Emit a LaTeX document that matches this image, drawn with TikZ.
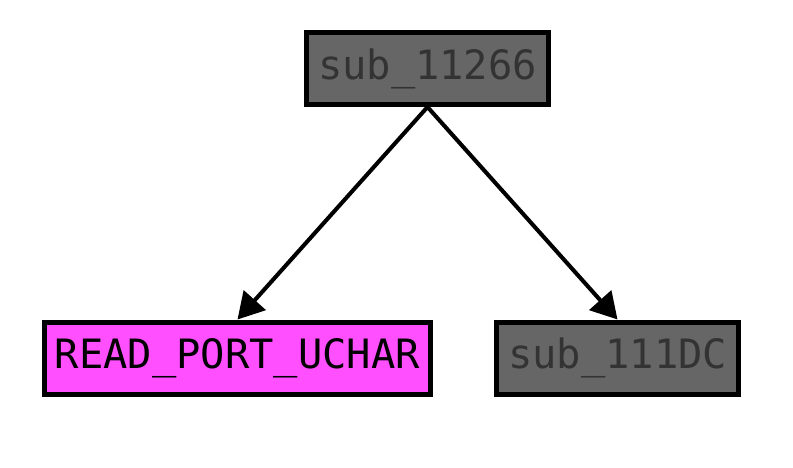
\documentclass[tikz,border=0pt]{standalone}
\usepackage{fontspec}
\setmonofont{DejaVu Sans Mono}
\usepackage{xcolor}
\usepackage{tikz}
\usetikzlibrary{arrows.meta,positioning}
\definecolor{fgray}{HTML}{666666}
\definecolor{tgray}{HTML}{333333}
\definecolor{fmag}{HTML}{FF4FFF}
\tikzset{
  fn/.style={draw=black, line width=2.85pt, minimum height=1.44cm, inner sep=0pt,
    font=\ttfamily\fontsize{23}{25}\selectfont},
  sub/.style={fn, fill=fgray, text=tgray, minimum width=4.84cm},
  imp/.style={fn, fill=fmag, text=black, minimum width=7.72cm},
  call/.style={line width=2.3pt, -{Triangle[length=0.52cm, width=0.58cm]}},
}

\begin{document}
\begin{tikzpicture}
\useasboundingbox (0,0) rectangle (15.86,9.34);
\node[sub] (top) at (8.55,7.97) {sub\_11266};
\node[imp] (rport) at (4.75,2.18) {READ\_PORT\_UCHAR};
\node[sub] (dc) at (12.35,2.18) {sub\_111DC};
\draw[call] (top.south) -- (rport.north);
\draw[call] (top.south) -- (dc.north);
\end{tikzpicture}
\end{document}
